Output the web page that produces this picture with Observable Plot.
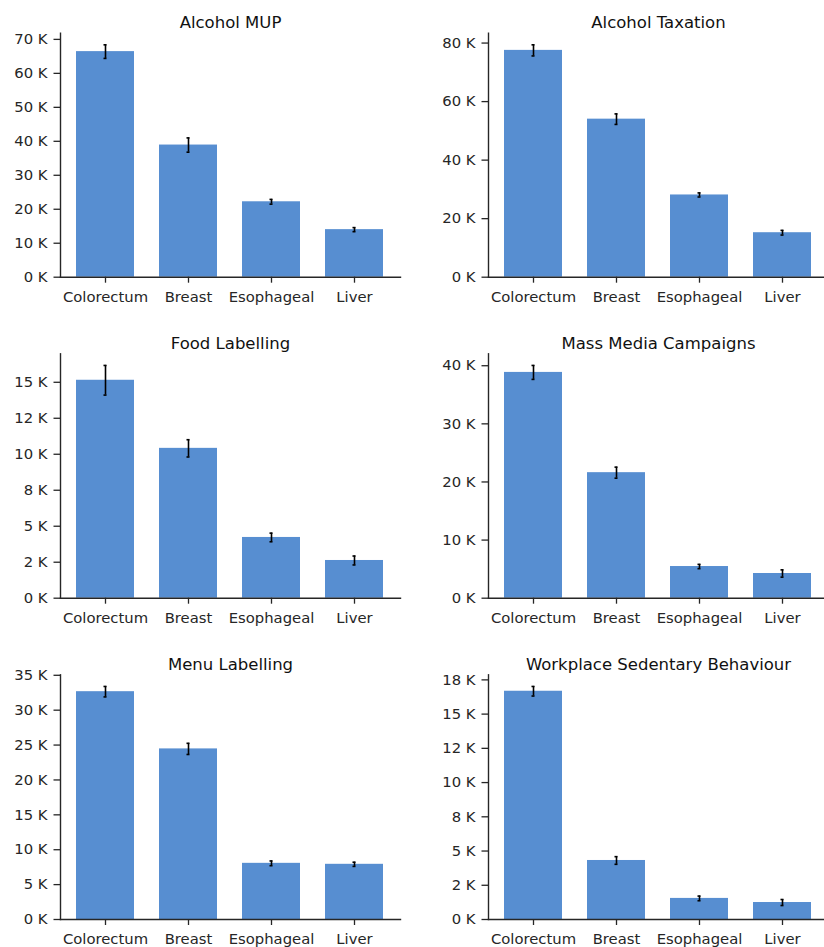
<!DOCTYPE html>
<html><head><meta charset="utf-8">
<script src="https://cdn.jsdelivr.net/npm/d3@7"></script>
<script src="https://cdn.jsdelivr.net/npm/@observablehq/plot@0.6"></script>
<style>
html,body{margin:0;padding:0;background:#fff;}
body{width:824px;height:947px;overflow:hidden;position:relative;font-family:"DejaVu Sans",sans-serif;}
.panel{position:absolute;}
</style></head><body>
<script>
const cancers = ["Colorectum", "Breast", "Esophageal", "Liver"];
const titles = ["Alcohol MUP", "Alcohol Taxation", "Food Labelling", "Mass Media Campaigns", "Menu Labelling", "Workplace Sedentary Behaviour"];

const alcoholMup = [66400, 38900, 22200, 14000];
const alcoholMupErr = [2000, 2100, 700, 600];
const alcoholTax = [77500, 54000, 28100, 15200];
const alcoholTaxErr = [1900, 1800, 700, 800];
const foodLabel = [15140, 10410, 4220, 2620];
const foodLabelErr = [1030, 600, 300, 310];
const massMedia = [38850, 21600, 5450, 4250];
const massMediaErr = [1200, 950, 370, 630];
const menuLabel = [32650, 24450, 8050, 7910];
const menuLabelErr = [750, 800, 340, 300];
const workplace = [16670, 4310, 1540, 1240];
const workplaceErr = [350, 280, 170, 220];

const seriesValues = [alcoholMup, alcoholTax, foodLabel, massMedia, menuLabel, workplace];
const seriesErrors = [alcoholMupErr, alcoholTaxErr, foodLabelErr, massMediaErr, menuLabelErr, workplaceErr];
const tickSteps = [10000, 20000, 2500, 10000, 5000, 2500];

// Python-style (round half to even) "K" formatting
function fmtK(d) {
  const v = d / 1000;
  const f = Math.floor(v);
  let r;
  if (Math.abs(v - f - 0.5) < 1e-9) r = (f % 2 === 0) ? f : f + 1;
  else r = Math.round(v);
  return r + " K";
}

const cols = [
  {left: 0, width: 412, ml: 60, mr: 12},
  {left: 412, width: 416, ml: 76, mr: 0}
];
const rows = [
  {top: 0, mt: 32.7, bottom: 276.7},
  {top: 320, mt: 33.3, bottom: 597.7},
  {top: 640, mt: 34.3, bottom: 919}
];
const H = 320;
const ink = "#262626";
const barColor = "#578ed1";

titles.forEach((title, i) => {
  const col = cols[i % 2], row = rows[Math.floor(i / 2)];
  const data = cancers.map((c, j) => ({cancer: c, v: seriesValues[i][j], e: seriesErrors[i][j]}));
  const top = d3.max(data, d => d.v + d.e) * 1.05;
  const ticks = d3.range(0, top + 1e-6, tickSteps[i]);
  const frameW = col.width - col.ml - col.mr;
  const step = frameW / (cancers.length - 0.3 + 2 * 0.185);
  const capInset = (step * 0.7 - 3.5) / 2;
  const chart = Plot.plot({
    width: col.width,
    height: H,
    marginLeft: col.ml,
    marginRight: col.mr,
    marginTop: row.mt,
    marginBottom: H - (row.bottom - row.top),
    style: {fontFamily: "DejaVu Sans", color: ink, background: "transparent", overflow: "visible"},
    x: {type: "band", domain: cancers, paddingInner: 0.3, paddingOuter: 0.185, align: 0.5},
    y: {domain: [0, top]},
    marks: [
      Plot.barY(data, {x: "cancer", y: "v", fill: barColor}),
      Plot.ruleX(data, {x: "cancer", y1: d => d.v - d.e, y2: d => d.v + d.e, stroke: "#000", strokeWidth: 1.6}),
      Plot.tickY(data, {x: "cancer", y: d => d.v - d.e, stroke: "#000", strokeWidth: 1.6, insetLeft: capInset, insetRight: capInset}),
      Plot.tickY(data, {x: "cancer", y: d => d.v + d.e, stroke: "#000", strokeWidth: 1.6, insetLeft: capInset, insetRight: capInset}),
      Plot.axisY({ticks: ticks, tickFormat: fmtK, tickSize: 6.5, tickPadding: 6.5, fontSize: 14.8, label: null, strokeWidth: 1.3}),
      Plot.axisX({tickSize: 6, tickPadding: 8, fontSize: 14.8, label: null, strokeWidth: 1.3}),
      Plot.frame({anchor: "left", stroke: ink, strokeWidth: 1.4}),
      Plot.frame({anchor: "bottom", stroke: ink, strokeWidth: 1.4}),
      Plot.text([title], {frameAnchor: "top", lineAnchor: "bottom", dy: -5, fontSize: 16.5, fill: "#111"})
    ]
  });
  chart.classList.add("panel");
  chart.style.left = col.left + "px";
  chart.style.top = row.top + "px";
  document.body.appendChild(chart);
});
</script>
</body></html>
